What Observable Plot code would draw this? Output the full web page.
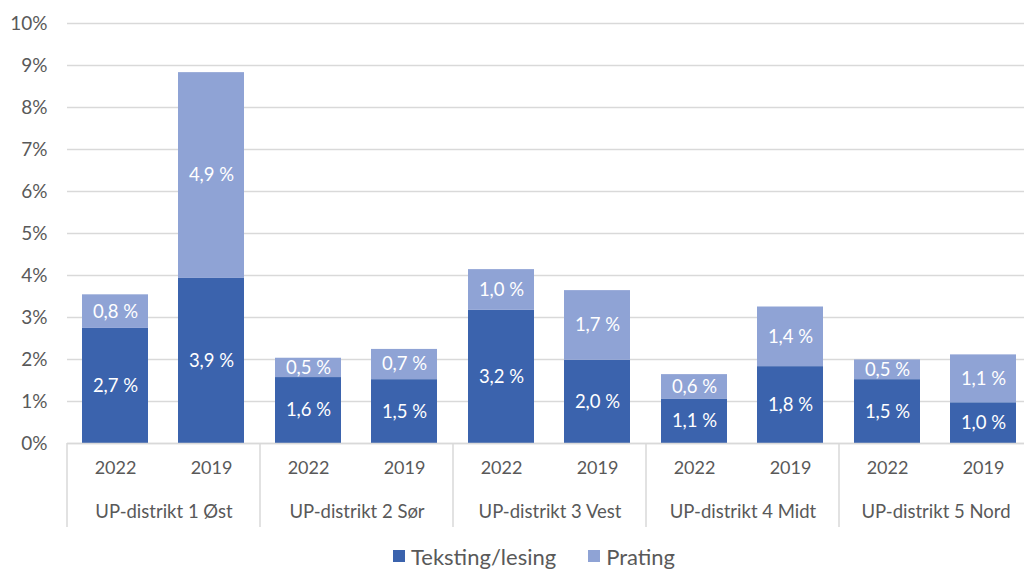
<!DOCTYPE html>
<html>
<head>
<meta charset="utf-8">
<script src="https://cdn.jsdelivr.net/npm/d3@7"></script>
<script src="https://cdn.jsdelivr.net/npm/@observablehq/plot@0.6"></script>
<style>
  html, body { margin: 0; padding: 0; background: #fff; overflow: hidden; width: 1024px; height: 572px; }
  #chart { width: 1034px; }
  #chart svg { display: block; max-width: none !important; }
  #legend { display: flex; align-items: center; height: 32px; padding-left: 393px; font-family: Lato, sans-serif; font-size: 22px; color: #595959; white-space: nowrap; }
  .item { display: flex; align-items: center; margin-right: 32px; }
  .sw { width: 12px; height: 12px; margin-right: 6px; display: inline-block; }
</style>
</head>
<body>
<div id="chart"></div>
<div id="legend"></div>
<script>
const districts = ["UP-distrikt 1 Øst", "UP-distrikt 2 Sør", "UP-distrikt 3 Vest", "UP-distrikt 4 Midt", "UP-distrikt 5 Nord"];
const years = ["2022", "2019"];
const series = ["Teksting/lesing", "Prating"];
const colors = ["#3B63AD", "#8FA3D5"];
// values in percent, bar order: district 1 (2022, 2019), district 2 (2022, 2019), ...
const tekstingLesing = [2.74, 3.93, 1.57, 1.52, 3.17, 1.98, 1.06, 1.83, 1.52, 0.97];
const prating = [0.80, 4.90, 0.46, 0.72, 0.97, 1.66, 0.58, 1.42, 0.47, 1.14];
const yTicks = [0, 1, 2, 3, 4, 5, 6, 7, 8, 9, 10];

const rows = [];
[tekstingLesing, prating].forEach((vals, s) => {
  vals.forEach((v, i) => {
    rows.push({district: districts[Math.floor(i / 2)], year: years[i % 2], series: series[s], value: v});
  });
});

const fmt = v => v.toFixed(1).replace(".", ",") + " %";

const chart = Plot.plot({
  width: 1034,
  height: 540,
  marginLeft: 65,
  marginRight: 0,
  marginTop: 23,
  marginBottom: 97,
  style: {fontFamily: "Lato, sans-serif", fontSize: "18px", color: "#595959", background: "white", overflow: "visible", maxWidth: "none"},
  fx: {domain: districts, padding: 0, label: null},
  x: {domain: years, paddingInner: 0.31, paddingOuter: 0.155, label: null},
  y: {domain: [0, 10], label: null},
  color: {domain: series, range: colors},
  marks: [
    Plot.gridY(yTicks, {stroke: "#d9d9d9", strokeOpacity: 1, strokeWidth: 1.3}),
    Plot.barY(rows, {fx: "district", x: "year", y: "value", fill: "series"}),
    Plot.ruleY([0], {stroke: "#d9d9d9", strokeWidth: 1.5}),
    Plot.text(rows, Plot.stackY({fx: "district", x: "year", y: "value", z: "series", text: d => fmt(d.value), fill: "white", fontSize: 18.5})),
    Plot.axisY(yTicks, {tickSize: 0, tickPadding: 20, tickFormat: d => d + "%", fontSize: 19, label: null}),
    Plot.axisX({anchor: "bottom", tickSize: 0, tickPadding: 18, fontSize: 18, label: null}),
    Plot.axisFx({anchor: "bottom", tickSize: 0, tickPadding: 61, fontSize: 18.5, label: null})
  ]
});
chart.style.maxWidth = "none";

// separators of the multi-level category axis
const fxs = chart.scale("fx");
const ys = chart.scale("y");
const y0 = ys.apply(0);
const edges = districts.map(d => fxs.apply(d));
edges.push(fxs.apply(districts[districts.length - 1]) + fxs.bandwidth);
d3.select(chart).append("g")
  .attr("stroke", "#d9d9d9").attr("stroke-width", 1.5)
  .selectAll("line").data(edges).join("line")
  .attr("x1", d => d).attr("x2", d => d)
  .attr("y1", y0).attr("y2", y0 + 84);

document.getElementById("chart").appendChild(chart);

const legend = document.getElementById("legend");
series.forEach((s, i) => {
  const item = document.createElement("div");
  item.className = "item";
  const sw = document.createElement("span");
  sw.className = "sw";
  sw.style.background = colors[i];
  const t = document.createElement("span");
  t.textContent = s;
  item.appendChild(sw);
  item.appendChild(t);
  legend.appendChild(item);
});
</script>
</body>
</html>
